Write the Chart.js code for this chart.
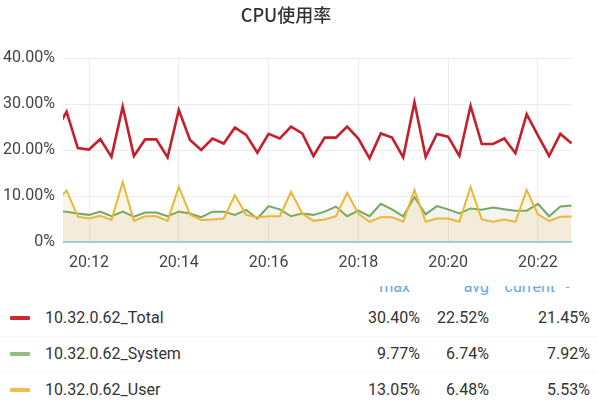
<!DOCTYPE html>
<html>
<head>
<meta charset="utf-8">
<script src="https://cdn.jsdelivr.net/npm/chart.js@4"></script>
<style>
  html, body { margin:0; padding:0; background:#fff; }
  body { width:598px; height:406px; position:relative; overflow:hidden; font-family: Roboto, "Noto Sans", sans-serif; color:#333; }
  #wrap { position:absolute; left:0; top:0; width:598px; height:280px; }
  .hdrclip { position:absolute; left:0; top:286px; width:598px; height:10px; overflow:hidden; }
  .hdr { position:absolute; top:-9px; font-size:16px; line-height:20px; color:#63a8e6; white-space:nowrap; }
  .row { position:absolute; left:0; width:598px; height:36px; }
  .sw { position:absolute; left:10px; width:20px; height:4px; top:16px; border-radius:1px; }
  .nm { position:absolute; left:45px; top:8px; font-size:16px; line-height:20px; color:#333; white-space:nowrap; }
  .val { position:absolute; top:8px; font-size:16px; line-height:20px; color:#333; text-align:right; width:80px; white-space:nowrap; }
  .sep { position:absolute; left:0; width:598px; height:1px; background:#f4f4f4; }
</style>
</head>
<body>
<div id="wrap"><canvas id="c" width="598" height="280"></canvas></div>
<div id="legend"></div>
<script>
const times = [
  '20:11:15','20:11:30','20:11:45','20:12:00','20:12:15','20:12:30','20:12:45','20:13:00',
  '20:13:15','20:13:30','20:13:45','20:14:00','20:14:15','20:14:30','20:14:45','20:15:00',
  '20:15:15','20:15:30','20:15:45','20:16:00','20:16:15','20:16:30','20:16:45','20:17:00',
  '20:17:15','20:17:30','20:17:45','20:18:00','20:18:15','20:18:30','20:18:45','20:19:00',
  '20:19:15','20:19:30','20:19:45','20:20:00','20:20:15','20:20:30','20:20:45','20:21:00',
  '20:21:15','20:21:30','20:21:45','20:22:00','20:22:15','20:22:30','20:22:45'
];
const totalValues = [
  24.0, 28.3, 20.4, 20.1, 22.4, 18.5, 29.4, 18.7,
  22.3, 22.3, 18.4, 28.7, 22.2, 20.0, 22.5, 21.4,
  24.9, 23.3, 19.4, 23.5, 22.5, 25.1, 23.6, 18.7,
  22.7, 22.7, 25.1, 22.5, 18.2, 23.6, 22.7, 18.4,
  30.4, 18.5, 23.5, 22.9, 18.7, 29.6, 21.3, 21.3,
  22.5, 19.3, 27.8, 23.2, 18.7, 23.5, 21.45
];
const systemValues = [
  6.7, 6.6, 6.2, 5.9, 6.6, 5.6, 6.6, 5.5,
  6.4, 6.4, 5.6, 6.6, 6.2, 5.4, 6.6, 6.6,
  5.9, 7.0, 5.1, 7.8, 7.1, 5.6, 6.2, 5.9,
  6.6, 7.7, 5.6, 6.8, 5.6, 8.3, 7.1, 5.6,
  9.77, 6.0, 7.8, 7.1, 6.2, 7.3, 7.0, 7.5,
  7.1, 6.8, 6.8, 8.3, 5.6, 7.7, 7.92
];
const userValues = [
  8.5, 11.2, 5.5, 5.1, 5.7, 4.8, 13.05, 4.6,
  5.6, 5.6, 4.6, 12.0, 6.0, 4.8, 4.9, 5.1,
  10.2, 5.9, 5.4, 5.6, 5.6, 10.9, 6.2, 4.6,
  4.9, 5.6, 10.7, 6.2, 4.4, 5.4, 5.4, 4.4,
  11.3, 4.4, 5.1, 5.1, 4.4, 12.0, 4.9, 4.4,
  4.9, 4.4, 11.3, 6.0, 4.6, 5.5, 5.53
];
const xTickLabels = ['20:12','20:14','20:16','20:18','20:20','20:22'];
const yTickValues = [0, 10, 20, 30, 40];
const seriesNames = ['10.32.0.62_Total','10.32.0.62_System','10.32.0.62_User'];
const statMax = ['30.40%','9.77%','13.05%'];
const statAvg = ['22.52%','6.74%','6.48%'];
const statCurrent = ['21.45%','7.92%','5.53%'];
const statHeaders = ['max','avg','current'];

const colors = { total:'#c51f2b', system:'#74a866', user:'#eab839' };

function toMin(t) {
  const p = t.split(':').map(Number);
  return (p[0] - 20) * 60 + p[1] + (p.length > 2 ? p[2] / 60 : 0);
}
function pts(vals) { return vals.map((v, i) => ({ x: toMin(times[i]), y: v })); }

new Chart(document.getElementById('c'), {
  type: 'line',
  data: {
    datasets: [
      { label: seriesNames[0], data: pts(totalValues), borderColor: colors.total, borderWidth: 2.6, fill: false, pointRadius: 0, tension: 0 },
      { label: seriesNames[2], data: pts(userValues), borderColor: colors.user, borderWidth: 2, fill: 'origin', backgroundColor: 'rgba(234,184,57,0.12)', pointRadius: 0, tension: 0 },
      { label: seriesNames[1], data: pts(systemValues), borderColor: colors.system, borderWidth: 2, fill: 'origin', backgroundColor: 'rgba(150,140,110,0.10)', pointRadius: 0, tension: 0 }
    ]
  },
  options: {
    responsive: false,
    animation: false,
    devicePixelRatio: 1,
    layout: { padding: { left: 0, right: 26, top: 0, bottom: 0 } },
    plugins: {
      legend: { display: false },
      tooltip: { enabled: false },
      title: {
        display: true, text: 'CPU使用率', color: '#333',
        font: { family: "'Noto Sans CJK SC', Roboto, sans-serif", size: 18, weight: '500' },
        padding: { top: 4, bottom: 32.4 }
      }
    },
    scales: {
      x: {
        type: 'linear',
        min: 11.42, max: 22.76,
        afterBuildTicks: (s) => { s.ticks = xTickLabels.map(l => ({ value: toMin(l) })); },
        afterFit: (s) => { s.height = 38; },
        ticks: {
          callback: (v, i) => xTickLabels[i],
          color: '#444', padding: 11, maxRotation: 0, autoSkip: false,
          font: { family: 'Roboto', size: 16 }
        },
        grid: { color: '#ececec', lineWidth: 1, drawTicks: false },
        border: { display: false }
      },
      y: {
        min: 0, max: 40,
        afterBuildTicks: (s) => { s.ticks = yTickValues.map(v => ({ value: v })); },
        afterFit: (s) => { s.width = 63; },
        ticks: {
          callback: (v) => v === 0 ? '0%' : v.toFixed(2) + '%',
          color: '#444', padding: 8,
          font: { family: 'Roboto', size: 16 }
        },
        grid: {
          color: (c) => c.tick && c.tick.value === 0 ? '#9ad2ea' : '#ebebeb',
          lineWidth: (c) => c.tick && c.tick.value === 0 ? 2 : 1,
          drawTicks: false
        },
        border: { display: false }
      }
    }
  }
});

// legend table
const lg = document.getElementById('legend');
const hdrPos = [{ right: 188 }, { right: 109 }, { right: 43 }];
let html = '<div class="hdrclip">';
statHeaders.forEach((h, i) => {
  html += '<div class="hdr" style="right:' + hdrPos[i].right + 'px">' + h + '</div>';
});
html += '<div class="hdr" style="left:566px;font-size:12px;">-</div></div>';
const swColors = ['#d0262f', '#8fc07f', '#f0c04f'];
const rowTops = [300, 336, 372];
const colRights = [420, 489, 590];
for (let i = 0; i < 3; i++) {
  html += '<div class="row" style="top:' + rowTops[i] + 'px">';
  html += '<div class="sw" style="background:' + swColors[i] + '"></div>';
  html += '<div class="nm">' + seriesNames[i] + '</div>';
  [statMax[i], statAvg[i], statCurrent[i]].forEach((v, j) => {
    html += '<div class="val" style="left:' + (colRights[j] - 80) + 'px">' + v + '</div>';
  });
  html += '</div>';
}
html += '<div class="sep" style="top:336px"></div><div class="sep" style="top:372px"></div>';
lg.innerHTML = html;
</script>
</body>
</html>
